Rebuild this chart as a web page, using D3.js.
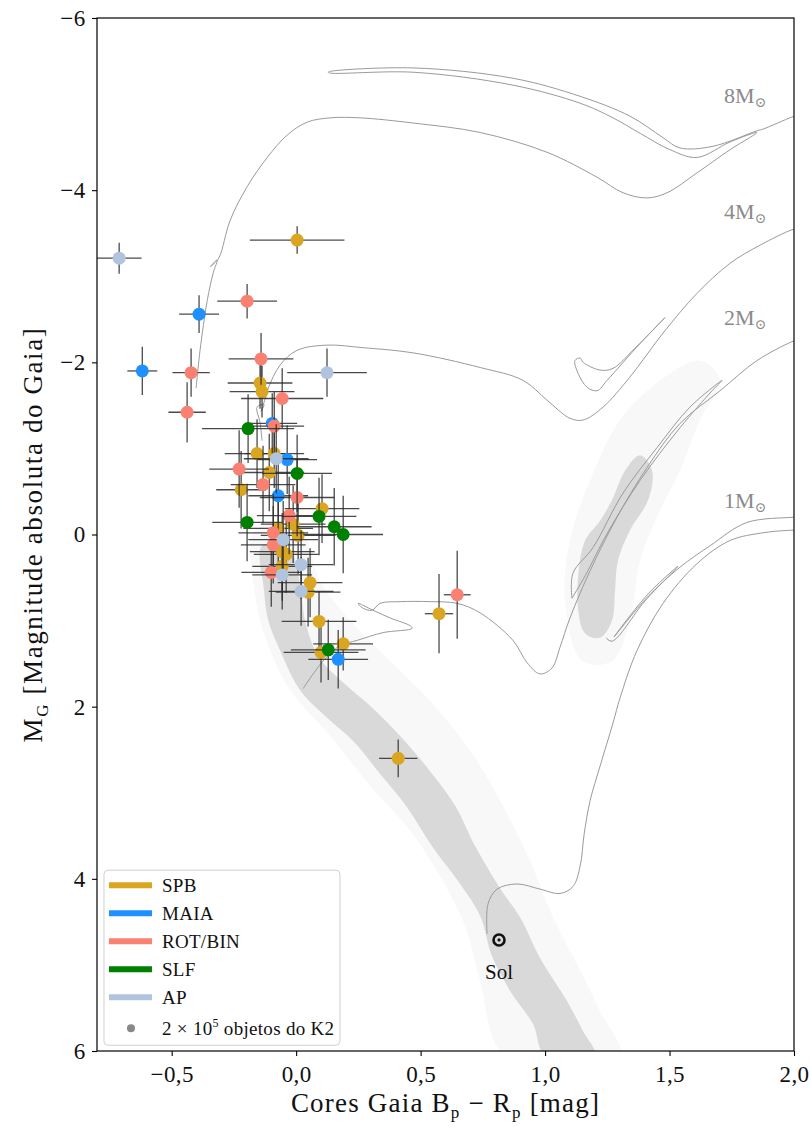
<!DOCTYPE html>
<html>
<head>
<meta charset="utf-8">
<script src="https://cdn.jsdelivr.net/npm/d3@7"></script>
<style>
	body { margin: 0; background: #fff; }
	svg text { font-family: "Liberation Serif", "DejaVu Serif", serif; }
</style>
</head>
<body>
<div id="chart"></div>
<script>

// ----------------------------------
// DATA (colour Bp-Rp, M_G, xerr, yerr)
// ----------------------------------

const spbStars = [
	[0.004, -3.42, 0.19, 0.16], [-0.145, -1.76, 0.13, 0.30], [-0.137, -1.66, 0.13, 0.30],
	[-0.157, -0.94, 0.13, 0.40], [-0.088, -0.94, 0.12, 0.40], [-0.108, -0.72, 0.14, 0.45],
	[-0.221, -0.52, 0.10, 0.45], [0.104, -0.30, 0.15, 0.40], [-0.012, -0.12, 0.13, 0.45],
	[-0.072, -0.07, 0.14, 0.45], [0.008, 0.01, 0.15, 0.45], [-0.056, 0.20, 0.13, 0.45],
	[-0.040, 0.23, 0.13, 0.45], [-0.056, 0.37, 0.12, 0.40], [0.056, 0.56, 0.13, 0.40],
	[0.048, 0.67, 0.13, 0.40], [0.092, 1.01, 0.15, 0.35], [0.189, 1.27, 0.12, 0.31],
	[0.100, 1.37, 0.15, 0.35], [0.410, 2.60, 0.077, 0.22], [0.574, 0.92, 0.057, 0.46]
];

const maiaStars = [
	[-0.390, -2.56, 0.08, 0.22], [-0.618, -1.90, 0.06, 0.28], [-0.096, -1.29, 0.10, 0.35],
	[-0.036, -0.87, 0.12, 0.40], [-0.072, -0.45, 0.12, 0.45], [0.169, 1.45, 0.12, 0.34]
];

const rotbinStars = [
	[-0.197, -2.71, 0.12, 0.20], [-0.422, -1.88, 0.075, 0.28], [-0.438, -1.42, 0.075, 0.35],
	[-0.141, -2.04, 0.13, 0.30], [-0.056, -1.58, 0.165, 0.35], [-0.088, -1.26, 0.12, 0.40],
	[-0.229, -0.76, 0.12, 0.45], [-0.133, -0.58, 0.13, 0.45], [0.004, -0.43, 0.15, 0.45],
	[-0.028, -0.22, 0.13, 0.45], [-0.092, -0.02, 0.14, 0.45], [-0.092, 0.12, 0.13, 0.45],
	[-0.100, 0.44, 0.12, 0.40], [0.647, 0.70, 0.054, 0.51]
];

const slfStars = [
	[-0.193, -1.23, 0.185, 0.40], [0.004, -0.71, 0.14, 0.45], [0.092, -0.21, 0.15, 0.45],
	[-0.197, -0.14, 0.14, 0.45], [0.153, -0.09, 0.15, 0.45], [0.189, 0.00, 0.16, 0.45],
	[0.129, 1.34, 0.15, 0.35]
];

const apStars = [
	[-0.711, -3.21, 0.09, 0.18], [0.124, -1.88, 0.16, 0.28], [-0.080, -0.88, 0.13, 0.40],
	[-0.052, 0.06, 0.14, 0.45], [0.020, 0.35, 0.13, 0.40], [-0.056, 0.47, 0.12, 0.40],
	[0.020, 0.66, 0.13, 0.40]
];

const groupNames = ['SPB', 'MAIA', 'ROT/BIN', 'SLF', 'AP'];
const groupColors = ['#daa520', '#1e90ff', '#fa8072', '#008000', '#b0c4de'];

// evolutionary tracks, each a list of segments
const track8M = [
	[[-0.402, -1.70], [-0.386, -2.14], [-0.357, -2.72], [-0.333, -3.04], [-0.317, -3.19],
	 [-0.345, -3.11], [-0.329, -3.15], [-0.309, -3.22], [-0.265, -3.65], [-0.197, -4.04],
	 [-0.116, -4.38], [-0.036, -4.64], [0.044, -4.79], [0.137, -4.84], [0.257, -4.84],
	 [0.470, -4.78], [0.739, -4.67], [1.008, -4.44], [1.209, -4.15], [1.313, -3.97],
	 [1.410, -3.91], [1.490, -3.97], [1.610, -4.20], [1.743, -4.47], [1.851, -4.67],
	 [1.743, -4.56], [1.610, -4.38], [1.502, -4.47], [1.382, -4.66], [1.273, -4.84],
	 [1.141, -5.01], [0.871, -5.22], [0.470, -5.37], [0.137, -5.36], [0.129, -5.37],
	 [0.137, -5.38], [0.470, -5.42], [0.871, -5.30], [1.141, -5.09], [1.341, -4.86],
	 [1.474, -4.61], [1.542, -4.49], [1.675, -4.51], [1.851, -4.69], [1.876, -4.71],
	 [1.992, -4.85], [2.024, -4.88]]
];

const track4M = [
	[[-0.137, -1.09], [-0.145, -1.30], [-0.157, -1.48], [-0.129, -1.51], [-0.141, -1.43],
	 [-0.124, -1.58], [-0.112, -1.70], [-0.064, -1.97], [0.004, -2.14], [0.124, -2.20],
	 [0.269, -2.17], [0.470, -2.11], [0.739, -1.94], [0.912, -1.79], [1.008, -1.56],
	 [1.100, -1.35], [1.153, -1.33], [1.233, -1.48], [1.341, -1.83], [1.474, -2.34],
	 [1.610, -2.80], [1.743, -3.15], [1.863, -3.36], [1.992, -3.54], [2.024, -3.56]],
	[[1.482, -2.52], [1.382, -2.22], [1.249, -1.79], [1.209, -1.67], [1.169, -1.71],
	 [1.133, -1.87], [1.120, -2.02], [1.141, -2.05], [1.153, -2.00], [1.221, -1.91],
	 [1.273, -1.93], [1.353, -2.14], [1.482, -2.52]]
];

const track2M = [
	[[0.028, 1.79], [0.108, 1.47], [0.177, 1.29], [0.245, 1.23], [0.349, 1.14],
	 [0.466, 1.09], [0.458, 1.06], [0.378, 0.97], [0.309, 0.88], [0.249, 0.80],
	 [0.265, 0.85], [0.305, 0.88], [0.337, 0.80], [0.418, 0.78], [0.538, 0.78],
	 [0.647, 0.80], [0.739, 0.91], [0.871, 1.23], [0.928, 1.49], [0.980, 1.62],
	 [1.028, 1.55], [1.060, 1.31], [1.100, 0.97], [1.181, 0.42], [1.289, -0.20],
	 [1.410, -0.78], [1.542, -1.29], [1.703, -1.67], [1.851, -2.02], [1.992, -2.24],
	 [2.024, -2.27]],
	[[1.108, 0.74], [1.112, 0.45], [1.193, 0.15], [1.313, -0.48], [1.450, -1.01],
	 [1.582, -1.48], [1.711, -1.79], [1.671, -1.67], [1.542, -1.24], [1.382, -0.63],
	 [1.249, -0.01], [1.161, 0.48], [1.108, 0.74]]
];

const track1M = [
	[[0.767, 4.64], [0.771, 4.29], [0.807, 4.12], [0.888, 4.06], [0.980, 4.12],
	 [1.060, 4.17], [1.112, 4.09], [1.141, 3.85], [1.157, 3.48], [1.181, 3.09],
	 [1.221, 2.69], [1.273, 2.19], [1.301, 1.90], [1.369, 1.35], [1.474, 0.80],
	 [1.610, 0.34], [1.743, 0.07], [1.876, -0.02], [1.992, -0.05], [2.024, -0.05]],
	[[1.245, 1.20], [1.269, 1.24], [1.402, 0.77], [1.534, 0.37], [1.414, 0.69],
	 [1.277, 1.19], [1.410, 0.73], [1.542, 0.38], [1.663, 0.13], [1.811, -0.14],
	 [1.992, -0.20], [2.024, -0.21]]
];

const trackLabels = [
	{mass: '8', x: 1.719, y: -5.01},
	{mass: '4', x: 1.719, y: -3.67},
	{mass: '2', x: 1.719, y: -2.43},
	{mass: '1', x: 1.719, y: -0.31}
];

// K2 field stars, drawn as density outlines
const mainSeqCore = [
	[-0.137, 0.13], [-0.129, 0.65], [-0.112, 1.00], [-0.064, 1.35], [0.016, 1.81],
	[0.124, 2.13], [0.229, 2.40], [0.337, 2.78], [0.446, 3.17], [0.550, 3.64],
	[0.659, 4.06], [0.739, 4.43], [0.787, 4.90], [0.859, 5.30], [0.952, 5.69],
	[1.000, 6.05], [1.201, 6.05], [1.153, 5.77], [1.088, 5.42], [0.980, 4.92],
	[0.900, 4.45], [0.819, 4.11], [0.719, 3.62], [0.639, 3.15], [0.530, 2.72],
	[0.418, 2.34], [0.309, 2.02], [0.189, 1.72], [0.088, 1.41], [0.036, 1.00],
	[0.016, 0.59], [-0.024, 0.19]
];

const mainSeqHalo = [
	[-0.165, -0.05], [-0.161, 0.77], [-0.112, 1.29], [-0.024, 1.81], [0.137, 2.34],
	[0.297, 2.92], [0.458, 3.44], [0.578, 3.97], [0.679, 4.55], [0.739, 5.19],
	[0.839, 6.05], [1.301, 6.05], [1.221, 5.54], [1.120, 4.95], [1.020, 4.37],
	[0.940, 3.79], [0.819, 3.09], [0.699, 2.51], [0.538, 1.93], [0.378, 1.47],
	[0.217, 1.00], [0.096, 0.54], [0.016, -0.05]
];

const giantCore = [
	[1.161, 0.07], [1.221, -0.16], [1.269, -0.40], [1.321, -0.74], [1.382, -0.92],
	[1.430, -0.74], [1.414, -0.40], [1.341, -0.05], [1.293, 0.30], [1.281, 0.65],
	[1.269, 1.00], [1.221, 1.20], [1.161, 1.15], [1.133, 0.88], [1.133, 0.48]
];

const giantHalo = [
	[1.080, 0.77], [1.100, 0.07], [1.181, -0.63], [1.301, -1.33], [1.462, -1.79],
	[1.622, -2.02], [1.703, -1.79], [1.622, -1.33], [1.542, -0.74], [1.462, -0.28],
	[1.382, 0.30], [1.341, 1.00], [1.269, 1.47], [1.149, 1.47]
];

const sun = {x: 0.815, y: 4.71};

const xTicks = [-0.5, 0, 0.5, 1.0, 1.5, 2.0];
const yTicks = [-6, -4, -2, 0, 2, 4, 6];

// ----------------------------------
// SVG + SCALES
// ----------------------------------

const width = 811,
	height = 1127,
	margin = {top: 18, right: 17, bottom: 76, left: 97},
	innerWidth = width - margin.left - margin.right,
	innerHeight = height - margin.top - margin.bottom;

const svg = d3.select('#chart')
	.append('svg')
	.attr('width', width)
	.attr('height', height);

const chartInner = svg.append('g')
	.attr('transform', `translate(${margin.left}, ${margin.top})`);

const xScale = d3.scaleLinear().domain([-0.8, 2.0]).range([0, innerWidth]);
const yScale = d3.scaleLinear().domain([-6, 6]).range([0, innerHeight]);

chartInner.append('clipPath').attr('id', 'plot-clip')
	.append('rect').attr('width', innerWidth).attr('height', innerHeight);

const plot = chartInner.append('g').attr('clip-path', 'url(#plot-clip)');

const blob = d3.line()
	.x(d => xScale(d[0]))
	.y(d => yScale(d[1]))
	.curve(d3.curveCatmullRomClosed);

// ----------------------------------
// K2 BACKGROUND
// ----------------------------------

[mainSeqHalo, giantHalo].forEach(poly => {
	plot.append('path')
		.attr('d', blob(poly))
		.attr('fill', '#ededed')
		.attr('opacity', 0.4);
});
[mainSeqCore, giantCore].forEach(poly => {
	plot.append('path')
		.attr('d', blob(poly))
		.attr('fill', '#d9d9d9');
});

// ----------------------------------
// TRACKS
// ----------------------------------

const trackLine = d3.line()
	.x(d => xScale(d[0]))
	.y(d => yScale(d[1]))
	.curve(d3.curveCatmullRom.alpha(0.5));

[track8M, track4M, track2M, track1M].forEach(track => {
	track.forEach(seg => {
		plot.append('path')
			.attr('d', trackLine(seg))
			.attr('fill', 'none')
			.attr('stroke', '#9a9a9a')
			.attr('stroke-width', 1);
	});
});

trackLabels.forEach(l => {
	const t = chartInner.append('text')
		.attr('x', xScale(l.x))
		.attr('y', yScale(l.y))
		.attr('fill', '#8a8a8a')
		.attr('font-size', 22);
	t.append('tspan').text(`${l.mass}M`);
	t.append('tspan').attr('font-size', 14).attr('dy', 4).text('⊙');
});

// ----------------------------------
// STARS WITH ERROR BARS
// ----------------------------------

const groups = [spbStars, maiaStars, rotbinStars, slfStars, apStars];

groups.forEach((stars, idx) => {
	const g = plot.append('g').attr('class', `group group--${idx}`);
	stars.forEach(d => {
		g.append('line')
			.attr('x1', xScale(d[0] - d[2])).attr('x2', xScale(d[0] + d[2]))
			.attr('y1', yScale(d[1])).attr('y2', yScale(d[1]))
			.attr('stroke', '#2a2a2a').attr('stroke-opacity', 0.85).attr('stroke-width', 1.3);
		g.append('line')
			.attr('x1', xScale(d[0])).attr('x2', xScale(d[0]))
			.attr('y1', yScale(d[1] - d[3])).attr('y2', yScale(d[1] + d[3]))
			.attr('stroke', '#2a2a2a').attr('stroke-opacity', 0.85).attr('stroke-width', 1.3);
	});
	g.selectAll('circle')
		.data(stars)
		.join('circle')
		.attr('cx', d => xScale(d[0]))
		.attr('cy', d => yScale(d[1]))
		.attr('r', 6.5)
		.attr('fill', groupColors[idx]);
});

// Sun
chartInner.append('circle')
	.attr('cx', xScale(sun.x)).attr('cy', yScale(sun.y))
	.attr('r', 5.5).attr('fill', 'none')
	.attr('stroke', '#111').attr('stroke-width', 2.6);
chartInner.append('circle')
	.attr('cx', xScale(sun.x)).attr('cy', yScale(sun.y))
	.attr('r', 1.6).attr('fill', '#111');
chartInner.append('text')
	.attr('x', xScale(sun.x)).attr('y', yScale(sun.y) + 39)
	.attr('text-anchor', 'middle')
	.attr('font-size', 21)
	.attr('fill', '#111')
	.text('Sol');

// ----------------------------------
// AXES
// ----------------------------------

const fmtX = d => d3.format('.1f')(d).replace('.', ',').replace('-', '−');
const fmtY = d => d3.format('d')(d).replace('-', '−');

const xAxis = chartInner.append('g')
	.attr('transform', `translate(0, ${innerHeight})`)
	.call(d3.axisBottom(xScale).tickValues(xTicks).tickFormat(fmtX).tickSize(5).tickSizeOuter(0));

const yAxis = chartInner.append('g')
	.call(d3.axisLeft(yScale).tickValues(yTicks).tickFormat(fmtY).tickSize(5).tickSizeOuter(0));

[xAxis, yAxis].forEach(ax => {
	ax.select('.domain').remove();
	ax.selectAll('.tick line').attr('stroke', '#000').attr('stroke-width', 1.1);
	ax.selectAll('.tick text')
		.attr('font-size', 23)
		.attr('letter-spacing', 0.4)
		.attr('font-family', '"Liberation Serif", serif')
		.attr('fill', '#111');
});
xAxis.selectAll('.tick text').attr('dy', '1.0em');
yAxis.selectAll('.tick text').attr('dx', '-0.15em');

chartInner.append('rect')
	.attr('width', innerWidth).attr('height', innerHeight)
	.attr('fill', 'none').attr('stroke', '#000').attr('stroke-width', 1.2);

// axis titles
const xTitle = svg.append('text')
	.attr('x', margin.left + innerWidth / 2)
	.attr('y', height - 15)
	.attr('text-anchor', 'middle')
	.attr('font-size', 27)
	.attr('letter-spacing', 1.2)
	.attr('fill', '#111');
xTitle.append('tspan').text('Cores Gaia B');
xTitle.append('tspan').attr('font-size', 17).attr('dy', 6).text('p');
xTitle.append('tspan').attr('dy', -6).text(' − R');
xTitle.append('tspan').attr('font-size', 17).attr('dy', 6).text('p');
xTitle.append('tspan').attr('dy', -6).text(' [mag]');

const yTitle = svg.append('text')
	.attr('transform', `translate(42, ${margin.top + innerHeight / 2}) rotate(-90)`)
	.attr('text-anchor', 'middle')
	.attr('font-size', 27)
	.attr('letter-spacing', 1.6)
	.attr('fill', '#111');
yTitle.append('tspan').text('M');
yTitle.append('tspan').attr('font-size', 17).attr('dy', 6).text('G');
yTitle.append('tspan').attr('dy', -6).text(' [Magnitude absoluta do Gaia]');

// ----------------------------------
// LEGEND
// ----------------------------------

const legend = chartInner.append('g')
	.attr('transform', `translate(${xScale(-0.772)}, ${yScale(3.9)})`);

legend.append('rect')
	.attr('width', 236).attr('height', 175).attr('rx', 4)
	.attr('fill', '#fff').attr('fill-opacity', 0.85)
	.attr('stroke', '#d0d0d0').attr('stroke-width', 1);

groupNames.forEach((name, idx) => {
	const yPos = 15 + idx * 28;
	legend.append('line')
		.attr('x1', 5).attr('x2', 48)
		.attr('y1', yPos).attr('y2', yPos)
		.attr('stroke', groupColors[idx]).attr('stroke-width', 6);
	legend.append('text')
		.attr('x', 58).attr('y', yPos + 7)
		.attr('font-size', 19).attr('letter-spacing', 0.3).attr('fill', '#111')
		.text(name);
});

legend.append('circle')
	.attr('cx', 27).attr('cy', 15 + 5 * 28 + 3)
	.attr('r', 4).attr('fill', '#888');
const k2Label = legend.append('text')
	.attr('x', 58).attr('y', 15 + 5 * 28 + 10)
	.attr('font-size', 19).attr('letter-spacing', 0.3).attr('fill', '#111');
k2Label.append('tspan').text('2 × 10');
k2Label.append('tspan').attr('font-size', 12).attr('dy', -8).text('5');
k2Label.append('tspan').attr('dy', 8).text(' objetos do K2');

</script>
</body>
</html>
